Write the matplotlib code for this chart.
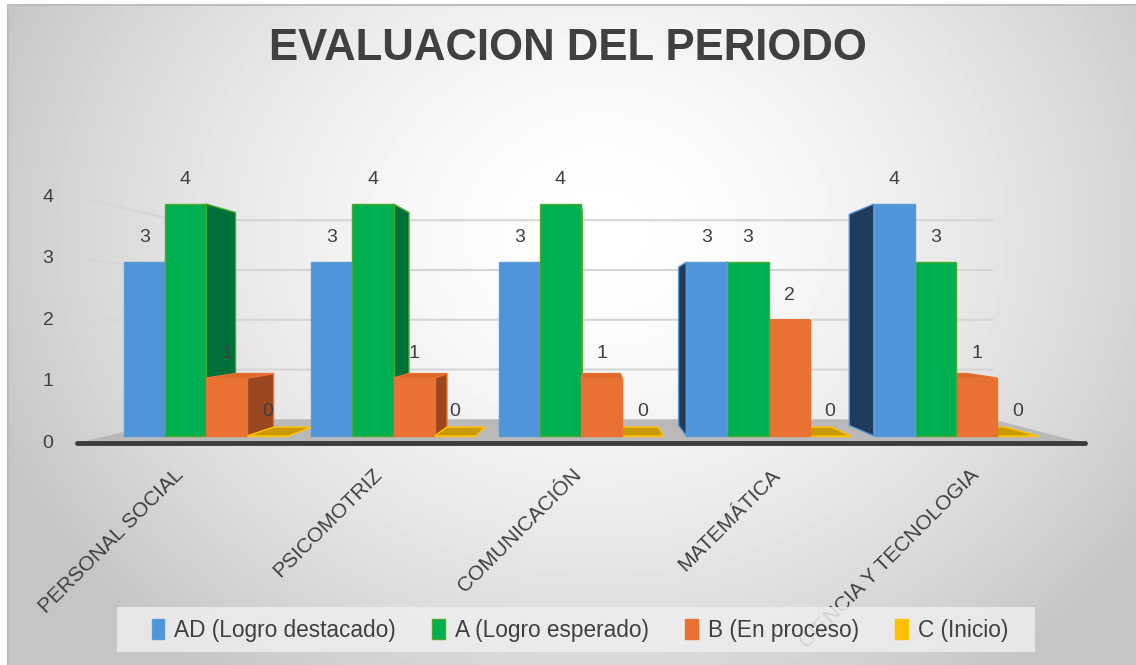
import numpy as np
import matplotlib
matplotlib.use("Agg")
import matplotlib.pyplot as plt
from matplotlib.patches import Polygon, Rectangle, Patch

## Datos del grafico

categorias = ["PERSONAL SOCIAL", "PSICOMOTRIZ", "COMUNICACIÓN", "MATEMÁTICA", "CIENCIA Y TECNOLOGIA"]
series = ["AD (Logro destacado)", "A (Logro esperado)", "B (En proceso)", "C (Inicio)"]
ad = [3, 3, 3, 3, 4]
a = [4, 4, 4, 3, 3]
b = [1, 1, 1, 2, 1]
c = [0, 0, 0, 0, 0]
yticks = [0, 1, 2, 3, 4]
titulo = "EVALUACION DEL PERIODO"

## Estilo

front_colors = ["#4E95D9", "#00B050", "#E97132", "#FFC000"]
side_colors = ["#1F3A5A", "#00703A", "#9A461E", "#C99A00"]
top_colors = ["#5FA3E0", "#1BBF5F", "#DB672B", "#C99A00"]
edge_colors = ["#5B9BD5", "#4EA72E", "#E97132", "#FFC000"]
text_color = "#404040"
normal = ["Liberation Sans", "DejaVu Sans"]

W_PX, H_PX = 1136, 665
# pseudo 3D: vanishing point and depths (data units)
VPX, VPY = 2.10, 2.03
D_BAR, D_WALL, D_FRONT = 0.075, 0.142, -0.06
X_LEFT, X_RIGHT = -0.53, 4.54
W = 0.219


def proj(x, v, d):
    # perspective shift of a point (x, v) pushed back by depth d
    return x + d * (VPX - x), v + d * (VPY - v)


fig = plt.figure(figsize=(W_PX / 100, H_PX / 100), dpi=100)

# background radial gradient
bg = fig.add_axes([0, 0, 1, 1])
yy, xx = np.mgrid[0:H_PX, 0:W_PX]
t = np.sqrt(((xx - 600) / 660.0) ** 2 + ((yy - 230) / 560.0) ** 2)
val = 1 - 0.23 * np.clip(t, 0, 1) ** 1.6
val[(xx < 8) | (yy < 5)] = 1.0
bg.imshow(val, cmap="gray", vmin=0, vmax=1, extent=(0, W_PX, H_PX, 0), aspect="auto")
bg.plot([8, 8, W_PX], [H_PX, 5, 5], color="#bdbdbd", lw=1.5)
bg.set_xlim(0, W_PX)
bg.set_ylim(H_PX, 0)
bg.axis("off")

ax = fig.add_axes([0, 0, 1, 1])
ax.patch.set_alpha(0)
ax.set_xlim(-206 / 187.5, (W_PX - 206) / 187.5)
ax.set_ylim((436 - H_PX) / 58.0, 436 / 58.0)
ax.axis("off")

# walls gridlines
for v in yticks[1:]:
    p0 = proj(X_LEFT, v, D_FRONT)
    p1 = proj(X_LEFT, v, D_WALL)
    p2 = proj(X_RIGHT, v, D_WALL)
    ax.plot([p0[0], p1[0], p2[0]], [p0[1], p1[1], p2[1]], color="#d6d6d6", lw=1.5, zorder=1)

# floor
floor = [proj(X_LEFT, 0, D_FRONT), proj(X_RIGHT, 0, D_FRONT),
         proj(X_RIGHT, 0, D_WALL), proj(X_LEFT, 0, D_WALL)]
ax.add_patch(Polygon(floor, closed=True, fc="#b9b9b9", ec="none", zorder=1.5))
ax.plot([floor[0][0], floor[1][0]], [floor[0][1], floor[1][1]], color="#3c3c3c",
        lw=3.5, solid_capstyle="round", zorder=1.6)

# y tick labels
for v in yticks:
    ax.text((48 - 206) / 187.5, proj(0, v, D_FRONT)[1], str(v), ha="center", va="center",
            fontsize=14, color=text_color, family=normal)

# bars
valores = [ad, a, b, c]
x = np.arange(len(categorias))
offsets = (np.arange(len(series)) - 1.5) * W
bar_items = []
for s, vals in enumerate(valores):
    rects = ax.bar(x + offsets[s], vals, W, color=front_colors[s], edgecolor=edge_colors[s], linewidth=1)
    for i, r in enumerate(rects):
        bar_items.append((s, i, vals[i], x[i] + offsets[s], r))

# painter order: far from the vanishing point first
bar_items.sort(key=lambda it: -abs(it[3] - VPX))
for k, (s, i, v, xc, rect) in enumerate(bar_items):
    z = 3 + k * 0.05
    xl, xr = xc - W / 2, xc + W / 2
    if v > 0 and xr < VPX:
        side = [proj(xr, 0, 0), proj(xr, v, 0), proj(xr, v, D_BAR), proj(xr, 0, D_BAR)]
        ax.add_patch(Polygon(side, closed=True, fc=side_colors[s], ec=edge_colors[s], lw=1, zorder=z))
    if v > 0 and xl > VPX:
        side = [proj(xl, 0, 0), proj(xl, v, 0), proj(xl, v, D_BAR * 1.2), proj(xl, 0, D_BAR * 1.2)]
        ax.add_patch(Polygon(side, closed=True, fc=side_colors[s], ec=edge_colors[s], lw=1, zorder=z))
    if v < VPY:
        top = [proj(xl, v, 0), proj(xr, v, 0), proj(xr, v, D_BAR), proj(xl, v, D_BAR)]
        ax.add_patch(Polygon(top, closed=True, fc=top_colors[s], ec=edge_colors[s], lw=1, zorder=z + 0.01))
    rect.set_zorder(z + 0.02)
    ax.text(xc, v + 0.43, str(v), ha="center", va="center", fontsize=14,
            color=text_color, family=normal, zorder=30)

# category labels
for i, cat in enumerate(categorias):
    px, py = proj(x[i], 0, D_FRONT)
    ax.text(px - 0.045, py - 0.38, cat, rotation=45, rotation_mode="anchor", ha="right", va="top",
            fontsize=15, color=text_color, family=normal, zorder=40)

# title
fig.text(568 / W_PX, 1 - 48 / H_PX, titulo, ha="center", va="center", fontsize=31.5,
         fontweight="bold", color=text_color, family=normal)

# legend
fig.patches.append(Rectangle((117 / W_PX, 1 - 652 / H_PX), (1035 - 117) / W_PX, 45 / H_PX,
                             transform=fig.transFigure, fc="#eeeeee", ec="none", alpha=0.85, zorder=5))
handles = [Patch(facecolor=front_colors[s], edgecolor=edge_colors[s]) for s in range(len(series))]
leg = fig.legend(handles, series, loc="center", bbox_to_anchor=(580 / W_PX, 1 - 630 / H_PX), ncol=4,
                 frameon=False, handlelength=0.55, handleheight=1.0, handletextpad=0.45,
                 columnspacing=1.6, prop={"family": normal, "size": 16.3})
for txt in leg.get_texts():
    txt.set_color(text_color)

fig.savefig("out.png", dpi=100)
